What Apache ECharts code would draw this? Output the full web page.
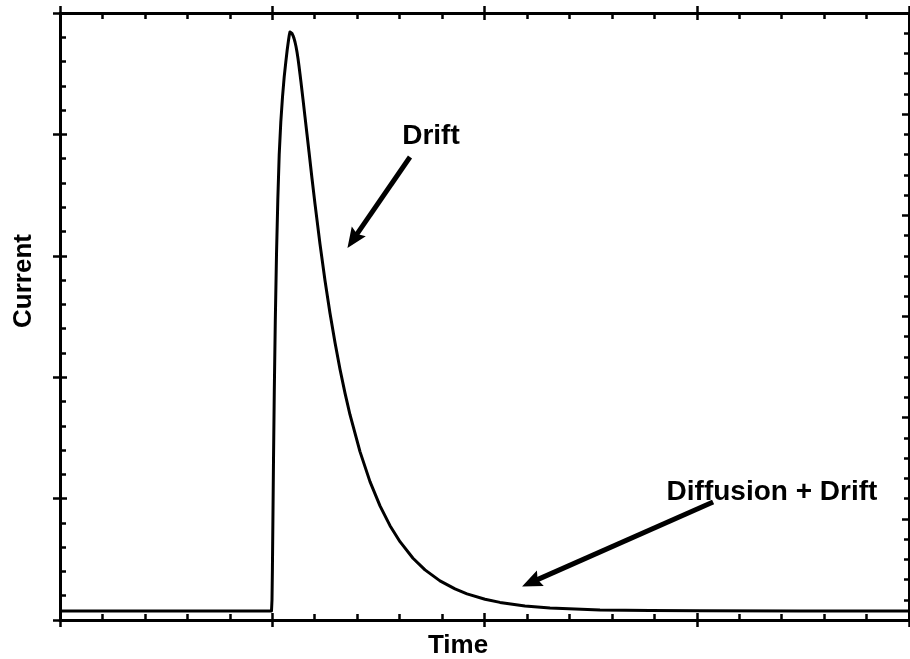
<!DOCTYPE html>
<html>
<head>
<meta charset="utf-8">
<script src="https://cdn.jsdelivr.net/npm/echarts@6/dist/echarts.min.js"></script>
<style>
  html, body { margin: 0; padding: 0; background: #ffffff; }
  #chart { width: 910px; height: 659px; }
</style>
</head>
<body>
<div id="chart"></div>
<script>
// Transient current pulse: flat baseline, fast rise, drift-dominated decay, diffusion tail
const timeValues = [
  0, 0.9965, 0.9988, 1.0007, 1.0031, 1.0059, 1.0097, 1.0144, 1.0200, 1.0262,
  1.0327, 1.0403, 1.0483, 1.0563, 1.0638, 1.0704, 1.0761, 1.0803, 1.0836,
  1.0883, 1.0931, 1.0978, 1.1025, 1.1072, 1.1119, 1.1166, 1.1213, 1.1260, 1.1307,
  1.1355, 1.1402, 1.1449, 1.1543, 1.1637, 1.1731, 1.1873,
  1.2014, 1.2250, 1.2485, 1.2721, 1.2956, 1.3192, 1.3428, 1.3663, 1.4134, 1.4605,
  1.5077, 1.5548, 1.6019, 1.6631, 1.7197, 1.7903, 1.8610, 1.9176, 2.0024, 2.0730,
  2.1908, 2.3086, 2.5442, 2.7797, 3.0153, 3.4865, 4.0
];
const currentValues = [
  0.074, 0.074, 0.165, 0.412, 0.824, 1.318, 1.895, 2.471, 3.007, 3.460,
  3.830, 4.102, 4.308, 4.473, 4.596, 4.695, 4.769, 4.819, 4.844,
  4.840, 4.831, 4.814, 4.791, 4.761, 4.724, 4.679, 4.625, 4.563, 4.498,
  4.429, 4.359, 4.288, 4.145, 4.001, 3.857, 3.637,
  3.428, 3.096, 2.797, 2.527, 2.285, 2.066, 1.869, 1.691, 1.387, 1.140,
  0.940, 0.777, 0.645, 0.509, 0.413, 0.322, 0.256, 0.215, 0.171, 0.145,
  0.116, 0.099, 0.083, 0.078, 0.076, 0.075, 0.074
];

// Annotation arrows, given in axis units: [tail, tip]
const driftArrow = [[1.649, 3.814], [1.381, 3.133]];
const diffusionArrow = [[3.077, 0.972], [2.220, 0.310]];

const pulse = timeValues.map((t, i) => [t, currentValues[i]]);

const FONT = '"Liberation Sans", Arial, sans-serif';
const INK = '#000000';
const arrowHead = 'path://M0,0 L10,20 L0,17 L-10,20 Z';

function frameAxis(pos, max, extra) {
  return Object.assign({
    type: 'value',
    position: pos,
    min: 0,
    max: max,
    interval: 1,
    axisLine: { show: false, onZero: false },
    axisLabel: { show: false },
    splitLine: { show: false },
    axisTick: { show: false },
    minorTick: { show: false },
    minorSplitLine: { show: false }
  }, extra);
}

const solidLine = { show: true, onZero: false, lineStyle: { color: INK, width: 3 } };
const outTick = { show: true, inside: false, length: 7, lineStyle: { color: INK, width: 2.5 } };
const inTick = { show: true, inside: true, length: 7, lineStyle: { color: INK, width: 2.5 } };
const minorIn = (len) => ({ show: true, splitNumber: 5, length: len, lineStyle: { color: INK, width: 2.5 } });

const option = {
  animation: false,
  backgroundColor: '#ffffff',
  grid: { left: 60, right: 1, top: 13, bottom: 39, containLabel: false },
  xAxis: [
    frameAxis('bottom', 4, { axisLine: solidLine, axisTick: outTick }),
    frameAxis('bottom', 4, { axisTick: inTick, minorTick: minorIn(6) }),
    frameAxis('top', 4, { axisLine: solidLine, axisTick: outTick }),
    frameAxis('top', 4, { axisTick: inTick, minorTick: minorIn(6) })
  ],
  yAxis: [
    frameAxis('left', 5, { axisLine: solidLine, axisTick: outTick }),
    frameAxis('left', 5, { axisTick: inTick, minorTick: minorIn(6) }),
    frameAxis('right', 6, { axisLine: solidLine, axisTick: inTick, minorTick: minorIn(5) })
  ],
  series: [
    {
      type: 'line',
      xAxisIndex: 0,
      yAxisIndex: 0,
      data: pulse,
      showSymbol: false,
      smooth: false,
      lineStyle: { color: INK, width: 3, join: 'round' },
      z: 5,
      markLine: {
        silent: true,
        symbol: ['none', arrowHead],
        symbolSize: [17, 20],
        lineStyle: { color: INK, width: 5, type: 'solid' },
        label: { show: false },
        data: [
          [{ coord: driftArrow[0] }, { coord: driftArrow[1] }],
          [{ coord: diffusionArrow[0] }, { coord: diffusionArrow[1] }]
        ]
      }
    }
  ],
  graphic: [
    { type: 'text', x: 24, y: 281, rotation: Math.PI / 2,
      style: { text: 'Current', x: 0, y: 0, align: 'center', verticalAlign: 'middle',
               font: 'bold 26px ' + FONT, fill: INK } },
    { type: 'text', x: 458, y: 646,
      style: { text: 'Time', x: 0, y: 0, align: 'center', verticalAlign: 'middle',
               font: 'bold 26px ' + FONT, fill: INK } },
    { type: 'text', x: 431, y: 136,
      style: { text: 'Drift', x: 0, y: 0, align: 'center', verticalAlign: 'middle',
               font: 'bold 28px ' + FONT, fill: INK } },
    { type: 'text', x: 772, y: 492,
      style: { text: 'Diffusion + Drift', x: 0, y: 0, align: 'center', verticalAlign: 'middle',
               font: 'bold 28px ' + FONT, fill: INK } }
  ]
};

const chart = echarts.init(document.getElementById('chart'), null, { renderer: 'canvas' });
chart.setOption(option);
</script>
</body>
</html>
